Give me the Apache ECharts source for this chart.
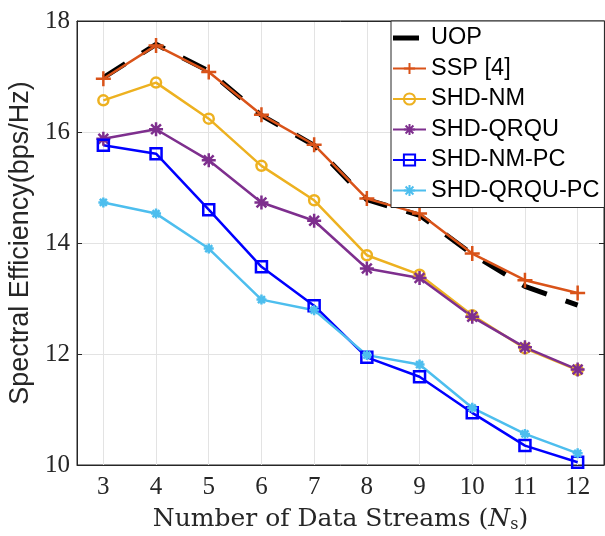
<!DOCTYPE html>
<html>
<head>
<meta charset="utf-8">
<title>Spectral Efficiency</title>
<script src="https://cdn.jsdelivr.net/npm/echarts@6.0.0/dist/echarts.min.js"></script>
<style>
  html, body { margin: 0; padding: 0; background: #fff; }
  #chart { width: 605px; height: 536px; }
</style>
</head>
<body>
<div id="chart"></div>
<script>
// number of data streams
const streams = ['3', '4', '5', '6', '7', '8', '9', '10', '11', '12']
const yTicks = [10, 12, 14, 16, 18]

const uop = [16.98, 17.58, 17.10, 16.30, 15.76, 14.78, 14.50, 13.80, 13.22, 12.88]
const ssp = [16.96, 17.56, 17.08, 16.31, 15.77, 14.80, 14.53, 13.81, 13.33, 13.10]
const shdNm = [16.57, 16.89, 16.24, 15.39, 14.77, 13.78, 13.43, 12.70, 12.10, 11.71]
const shdQrqu = [15.88, 16.05, 15.49, 14.73, 14.40, 13.54, 13.37, 12.67, 12.12, 11.72]
const shdNmPc = [15.76, 15.61, 14.60, 13.57, 12.87, 11.94, 11.59, 10.94, 10.35, 10.05]
const shdQrquPc = [14.73, 14.53, 13.90, 12.98, 12.79, 11.98, 11.81, 11.03, 10.56, 10.21]

// matlab style markers, stroked
const plusPath = 'path://M0,5L10,5M5,0L5,10'
const starPath = 'path://M0,5L10,5M5,0L5,10M1.5,1.5L8.5,8.5M8.5,1.5L1.5,8.5'
// thick dash for the UOP legend entry
const dashIcon = 'path://M0,0H26V5H0ZM33,0L33,5'

const axisColor = '#262626'
const gridColor = '#e3e3e3'
const serif = 'Liberation Serif'
const sans = 'Liberation Sans'

function lineSeries(name, data, color, symbol, size, hollow) {
  return {
    name: name,
    type: 'line',
    data: data,
    symbol: symbol,
    symbolSize: size,
    lineStyle: { color: color, width: 2.5 },
    itemStyle: {
      color: hollow ? 'rgba(0,0,0,0)' : color,
      borderColor: color,
      borderWidth: 2.5
    },
    emphasis: { disabled: true }
  }
}

const chart = echarts.init(document.getElementById('chart'))
chart.setOption({
  animation: false,
  backgroundColor: '#fff',
  grid: {
    left: 77, right: 1, top: 21, bottom: 71,
    show: true,
    borderColor: axisColor,
    borderWidth: 1,
    outerBoundsMode: 'none'
  },
  legend: {
    orient: 'vertical',
    left: 391,
    top: 21,
    padding: [5, 5, 5, 1],
    itemWidth: 33,
    itemHeight: 14,
    itemGap: 6.5,
    backgroundColor: '#fff',
    borderColor: axisColor,
    borderWidth: 1,
    borderRadius: 0,
    textStyle: { fontFamily: sans, fontSize: 23.5, lineHeight: 24, color: '#000' },
    data: [
      { name: 'UOP', icon: dashIcon, itemStyle: { color: '#000' } },
      'SSP [4]', 'SHD-NM', 'SHD-QRQU', 'SHD-NM-PC', 'SHD-QRQU-PC'
    ]
  },
  xAxis: [{
    type: 'category',
    data: streams,
    boundaryGap: true,
    name: 'Number of Data Streams ({it|N}{sub|s})',
    nameLocation: 'middle',
    nameGap: 40,
    nameTextStyle: {
      fontFamily: 'DejaVu Serif', fontSize: 25, color: axisColor,
      rich: {
        it: { fontFamily: 'DejaVu Serif', fontSize: 25, fontStyle: 'italic', color: axisColor },
        sub: { fontFamily: 'DejaVu Serif', fontSize: 16, color: axisColor, verticalAlign: 'bottom', padding: [12, 0, 0, 0] }
      }
    },
    axisLine: { lineStyle: { color: axisColor, width: 1 } },
    axisTick: { inside: true, length: 5, alignWithLabel: true, lineStyle: { color: axisColor } },
    axisLabel: { fontFamily: serif, fontSize: 25, color: axisColor, margin: 10 },
    splitLine: { show: true, alignWithLabel: true, lineStyle: { color: gridColor, width: 1 } }
  }, {
    type: 'category',
    data: streams,
    position: 'top',
    boundaryGap: true,
    axisLine: { lineStyle: { color: axisColor, width: 1 } },
    axisTick: { inside: true, length: 5, alignWithLabel: true, lineStyle: { color: axisColor } },
    axisLabel: { show: false },
    splitLine: { show: false }
  }],
  yAxis: [{
    type: 'value',
    min: yTicks[0],
    max: yTicks[yTicks.length - 1],
    interval: 2,
    name: 'Spectral Efficiency(bps/Hz)',
    nameLocation: 'middle',
    nameGap: 31,
    nameTextStyle: { fontFamily: sans, fontSize: 27, color: axisColor },
    axisLine: { show: true, lineStyle: { color: axisColor, width: 1 } },
    axisTick: { show: true, inside: true, length: 5, lineStyle: { color: axisColor } },
    axisLabel: { fontFamily: serif, fontSize: 25, color: axisColor, margin: 7 },
    splitLine: { show: true, lineStyle: { color: gridColor, width: 1 } }
  }, {
    type: 'value',
    min: yTicks[0],
    max: yTicks[yTicks.length - 1],
    interval: 2,
    position: 'right',
    axisLine: { show: true, lineStyle: { color: axisColor, width: 1 } },
    axisTick: { show: true, inside: true, length: 5, lineStyle: { color: axisColor } },
    axisLabel: { show: false },
    splitLine: { show: false }
  }],
  series: [
    {
      name: 'UOP',
      type: 'line',
      data: uop,
      symbol: 'none',
      lineStyle: { color: '#000', width: 5, type: [26, 20] },
      itemStyle: { color: '#000' },
      emphasis: { disabled: true }
    },
    lineSeries('SSP [4]', ssp, '#D95319', plusPath, 15, false),
    lineSeries('SHD-NM', shdNm, '#EDB120', 'circle', 10, true),
    lineSeries('SHD-QRQU', shdQrqu, '#7E2F8E', starPath, 14, false),
    lineSeries('SHD-NM-PC', shdNmPc, '#0000FF', 'rect', 11, true),
    lineSeries('SHD-QRQU-PC', shdQrquPc, '#4DBEEE', starPath, 10, false)
  ]
})
</script>
</body>
</html>
